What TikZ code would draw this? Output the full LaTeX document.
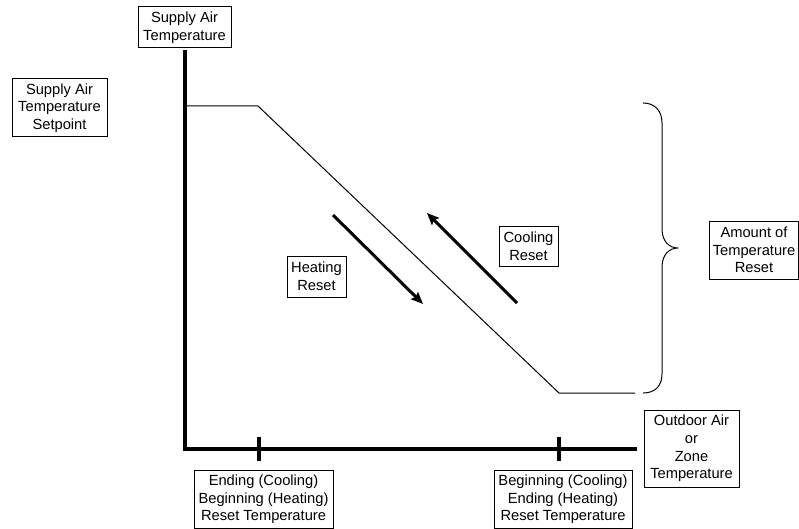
\documentclass[tikz,border=0pt]{standalone}
\usepackage{fontspec}
\setmainfont{Liberation Sans}
\usetikzlibrary{arrows.meta, calc}

\tikzset{
    lbl/.style={draw, line width=1pt, align=center, inner sep=0pt,
        font=\fontsize{14.7}{17.6}\selectfont},
    axis/.style={line width=3.2pt},
    resetarrow/.style={line width=3pt, -{Stealth[length=12pt,width=10pt,inset=2pt]}}
}

\begin{document}
\begin{tikzpicture}[x=1pt,y=-1pt]
        \fill[white] (0,0) rectangle (799,529);
        \useasboundingbox (0,0) rectangle (799,529);

        \coordinate (yTop) at (185,50);
        \coordinate (O) at (185,449);
        \coordinate (xEnd) at (637,449);
        \coordinate (kneeA) at (258,106);
        \coordinate (kneeB) at (559,393);

        \draw[axis] (yTop)-- (O)-- (xEnd);
        \draw[axis] (259,437)-- (259,461);
        \draw[axis] (559,437)-- (559,461);

        \draw[line width=1pt] (185,106)-- (kneeA)-- (kneeB)-- (635,393);

        \draw[line width=1pt] (643,103) .. controls (655,103) and (662,111) .. (662,123)
            -- (662,229) .. controls (662,241) and (669,248) .. (678,248)
            .. controls (669,248) and (662,255) .. (662,267)
            -- (662,374) .. controls (662,386) and (655,393) .. (643,393);

        \coordinate (heatA) at (333,215);
        \coordinate (heatB) at (423,304);
        \coordinate (coolA) at (517,303);
        \coordinate (coolB) at (427,213);
        \draw[resetarrow] (heatA)-- (heatB);
        \draw[resetarrow] (coolA)-- (coolB);

        \node[lbl, minimum width=93pt, minimum height=41pt] (supply) at (184.5,27.5) {Supply Air\\Temperature};
        \node[lbl, minimum width=95pt, minimum height=58pt] (setpt) at (59.5,108) {Supply Air\\Temperature\\Setpoint};
        \node[lbl, minimum width=59pt, minimum height=41pt] (heat) at (316.5,276.5) {Heating\\Reset};
        \node[lbl, minimum width=59pt, minimum height=40pt] (cool) at (528.5,246) {Cooling\\Reset};
        \node[lbl, minimum width=89pt, minimum height=58pt] (amount) at (754,250) {Amount of\\Temperature\\Reset};
        \node[lbl, minimum width=95pt, minimum height=77pt] (outdoor) at (691.5,448.5) {Outdoor Air\\or\\Zone\\Temperature};
        \node[lbl, minimum width=139pt, minimum height=58pt] (endcool) at (263.5,499.5) {Ending (Cooling)\\Beginning (Heating)\\Reset Temperature};
        \node[lbl, minimum width=138pt, minimum height=58pt] (begcool) at (563,499.5) {Beginning (Cooling)\\Ending (Heating)\\Reset Temperature};
\end{tikzpicture}
\end{document}
